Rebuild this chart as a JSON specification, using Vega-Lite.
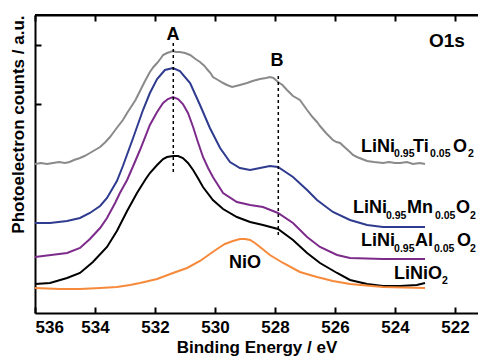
{
"$schema": "https://vega.github.io/schema/vega-lite/v6.json",
"width": 443, "height": 298,
"autosize": {"type": "none"},
"padding": {"left": 35, "top": 15, "right": 0, "bottom": 43},
"config": {"view": {"stroke": null}, "font": "Liberation Sans",
 "axis": {"grid": false, "domain": true, "domainColor": "#000", "domainWidth": 2, "tickColor": "#000", "tickWidth": 2, "tickSize": -6, "labelColor": "#000", "titleColor": "#000", "labelFont": "Liberation Sans", "titleFont": "Liberation Sans", "labelFontWeight": "bold", "titleFontWeight": "bold", "labelFontSize": 17, "titleFontSize": 17}},
"datasets": {
 "spectra": [
  {"s":"Ti","E":536.00,"c":149},{"s":"Ti","E":535.80,"c":150},{"s":"Ti","E":535.60,"c":149},{"s":"Ti","E":535.40,"c":150},{"s":"Ti","E":535.20,"c":151},{"s":"Ti","E":535.00,"c":150},{"s":"Ti","E":534.85,"c":151},{"s":"Ti","E":534.70,"c":153},{"s":"Ti","E":534.50,"c":155},{"s":"Ti","E":534.35,"c":157},{"s":"Ti","E":534.17,"c":160},{"s":"Ti","E":534.00,"c":163},{"s":"Ti","E":533.83,"c":166},{"s":"Ti","E":533.65,"c":171},{"s":"Ti","E":533.50,"c":176},{"s":"Ti","E":533.40,"c":180},{"s":"Ti","E":533.25,"c":186},{"s":"Ti","E":533.07,"c":193},{"s":"Ti","E":532.93,"c":200},{"s":"Ti","E":532.80,"c":206},{"s":"Ti","E":532.65,"c":213},{"s":"Ti","E":532.50,"c":222},{"s":"Ti","E":532.35,"c":231},{"s":"Ti","E":532.17,"c":241},{"s":"Ti","E":532.05,"c":246},{"s":"Ti","E":531.93,"c":250},{"s":"Ti","E":531.80,"c":255},{"s":"Ti","E":531.73,"c":258},{"s":"Ti","E":531.60,"c":260},{"s":"Ti","E":531.50,"c":261},{"s":"Ti","E":531.40,"c":262},{"s":"Ti","E":531.30,"c":261},{"s":"Ti","E":531.17,"c":261},{"s":"Ti","E":531.00,"c":260},{"s":"Ti","E":530.83,"c":258},{"s":"Ti","E":530.65,"c":254},{"s":"Ti","E":530.50,"c":251},{"s":"Ti","E":530.35,"c":247},{"s":"Ti","E":530.27,"c":244},{"s":"Ti","E":530.15,"c":240},{"s":"Ti","E":530.07,"c":236},{"s":"Ti","E":529.90,"c":233},{"s":"Ti","E":529.73,"c":230},{"s":"Ti","E":529.60,"c":228},{"s":"Ti","E":529.43,"c":226},{"s":"Ti","E":529.30,"c":227},{"s":"Ti","E":529.17,"c":228},{"s":"Ti","E":529.05,"c":229},{"s":"Ti","E":528.93,"c":230},{"s":"Ti","E":528.75,"c":232},{"s":"Ti","E":528.50,"c":234},{"s":"Ti","E":528.30,"c":235},{"s":"Ti","E":528.17,"c":236},{"s":"Ti","E":528.05,"c":235},{"s":"Ti","E":527.90,"c":231},{"s":"Ti","E":527.75,"c":228},{"s":"Ti","E":527.60,"c":223},{"s":"Ti","E":527.40,"c":217},{"s":"Ti","E":527.17,"c":213},{"s":"Ti","E":527.05,"c":208},{"s":"Ti","E":526.93,"c":203},{"s":"Ti","E":526.75,"c":196},{"s":"Ti","E":526.60,"c":191},{"s":"Ti","E":526.50,"c":187},{"s":"Ti","E":526.30,"c":180},{"s":"Ti","E":526.07,"c":173},{"s":"Ti","E":525.95,"c":171},{"s":"Ti","E":525.83,"c":170},{"s":"Ti","E":525.65,"c":165},{"s":"Ti","E":525.50,"c":161},{"s":"Ti","E":525.40,"c":158},{"s":"Ti","E":525.27,"c":156},{"s":"Ti","E":525.10,"c":154},{"s":"Ti","E":524.93,"c":152},{"s":"Ti","E":524.70,"c":151},{"s":"Ti","E":524.40,"c":150},{"s":"Ti","E":524.20,"c":151},{"s":"Ti","E":524.00,"c":150},{"s":"Ti","E":523.83,"c":150},{"s":"Ti","E":523.60,"c":151},{"s":"Ti","E":523.40,"c":149},{"s":"Ti","E":523.17,"c":150},{"s":"Ti","E":523.00,"c":149},
  {"s":"Mn","E":536.00,"c":90},{"s":"Mn","E":535.50,"c":90},{"s":"Mn","E":534.93,"c":92},{"s":"Mn","E":534.50,"c":95},{"s":"Mn","E":534.17,"c":100},{"s":"Mn","E":533.83,"c":107},{"s":"Mn","E":533.60,"c":115},{"s":"Mn","E":533.27,"c":132},{"s":"Mn","E":533.07,"c":147},{"s":"Mn","E":532.73,"c":175},{"s":"Mn","E":532.40,"c":203},{"s":"Mn","E":532.17,"c":220},{"s":"Mn","E":531.93,"c":234},{"s":"Mn","E":531.67,"c":243},{"s":"Mn","E":531.40,"c":245},{"s":"Mn","E":531.17,"c":242},{"s":"Mn","E":530.83,"c":230},{"s":"Mn","E":530.50,"c":208},{"s":"Mn","E":530.17,"c":185},{"s":"Mn","E":529.83,"c":165},{"s":"Mn","E":529.50,"c":151},{"s":"Mn","E":529.17,"c":145},{"s":"Mn","E":528.83,"c":143},{"s":"Mn","E":528.50,"c":145},{"s":"Mn","E":528.17,"c":147},{"s":"Mn","E":527.90,"c":146},{"s":"Mn","E":527.40,"c":136},{"s":"Mn","E":526.93,"c":123},{"s":"Mn","E":526.60,"c":113},{"s":"Mn","E":526.07,"c":101},{"s":"Mn","E":525.50,"c":93},{"s":"Mn","E":524.93,"c":88},{"s":"Mn","E":524.40,"c":86},{"s":"Mn","E":523.83,"c":86},{"s":"Mn","E":523.00,"c":86},
  {"s":"Al","E":536.00,"c":56},{"s":"Al","E":534.93,"c":60},{"s":"Al","E":534.50,"c":65},{"s":"Al","E":534.17,"c":74},{"s":"Al","E":533.83,"c":85},{"s":"Al","E":533.60,"c":95},{"s":"Al","E":533.33,"c":110},{"s":"Al","E":533.17,"c":120},{"s":"Al","E":532.93,"c":133},{"s":"Al","E":532.67,"c":151},{"s":"Al","E":532.50,"c":163},{"s":"Al","E":532.17,"c":188},{"s":"Al","E":531.93,"c":201},{"s":"Al","E":531.73,"c":210},{"s":"Al","E":531.57,"c":214},{"s":"Al","E":531.40,"c":216},{"s":"Al","E":531.23,"c":214},{"s":"Al","E":531.07,"c":209},{"s":"Al","E":530.90,"c":200},{"s":"Al","E":530.73,"c":186},{"s":"Al","E":530.57,"c":171},{"s":"Al","E":530.40,"c":156},{"s":"Al","E":530.23,"c":145},{"s":"Al","E":530.07,"c":136},{"s":"Al","E":529.73,"c":120},{"s":"Al","E":529.27,"c":111},{"s":"Al","E":528.83,"c":108},{"s":"Al","E":528.40,"c":106},{"s":"Al","E":527.90,"c":100},{"s":"Al","E":527.40,"c":90},{"s":"Al","E":526.93,"c":76},{"s":"Al","E":526.50,"c":66},{"s":"Al","E":525.93,"c":58},{"s":"Al","E":525.50,"c":55},{"s":"Al","E":524.40,"c":54},{"s":"Al","E":523.00,"c":54},
  {"s":"LiNiO2","E":536.00,"c":29},{"s":"LiNiO2","E":535.50,"c":30},{"s":"LiNiO2","E":534.93,"c":35},{"s":"LiNiO2","E":534.50,"c":40},{"s":"LiNiO2","E":534.07,"c":51},{"s":"LiNiO2","E":533.60,"c":66},{"s":"LiNiO2","E":533.27,"c":82},{"s":"LiNiO2","E":532.93,"c":102},{"s":"LiNiO2","E":532.60,"c":120},{"s":"LiNiO2","E":532.33,"c":133},{"s":"LiNiO2","E":532.17,"c":140},{"s":"LiNiO2","E":531.93,"c":148},{"s":"LiNiO2","E":531.73,"c":154},{"s":"LiNiO2","E":531.60,"c":156},{"s":"LiNiO2","E":531.40,"c":157},{"s":"LiNiO2","E":531.23,"c":157},{"s":"LiNiO2","E":531.07,"c":155},{"s":"LiNiO2","E":530.90,"c":150},{"s":"LiNiO2","E":530.73,"c":143},{"s":"LiNiO2","E":530.57,"c":135},{"s":"LiNiO2","E":530.40,"c":126},{"s":"LiNiO2","E":530.07,"c":113},{"s":"LiNiO2","E":529.73,"c":104},{"s":"LiNiO2","E":529.27,"c":96},{"s":"LiNiO2","E":528.83,"c":91},{"s":"LiNiO2","E":528.40,"c":88},{"s":"LiNiO2","E":527.90,"c":84},{"s":"LiNiO2","E":527.40,"c":73},{"s":"LiNiO2","E":526.93,"c":60},{"s":"LiNiO2","E":526.50,"c":50},{"s":"LiNiO2","E":525.93,"c":40},{"s":"LiNiO2","E":525.50,"c":33},{"s":"LiNiO2","E":524.93,"c":29},{"s":"LiNiO2","E":524.40,"c":27},{"s":"LiNiO2","E":523.83,"c":27},{"s":"LiNiO2","E":523.27,"c":28},{"s":"LiNiO2","E":523.00,"c":30},
  {"s":"NiO","E":536.00,"c":25},{"s":"NiO","E":535.17,"c":24},{"s":"NiO","E":534.50,"c":24},{"s":"NiO","E":533.83,"c":25},{"s":"NiO","E":533.27,"c":26},{"s":"NiO","E":532.83,"c":28},{"s":"NiO","E":532.50,"c":30},{"s":"NiO","E":531.93,"c":34},{"s":"NiO","E":531.40,"c":40},{"s":"NiO","E":530.93,"c":45},{"s":"NiO","E":530.50,"c":52},{"s":"NiO","E":530.17,"c":59},{"s":"NiO","E":529.93,"c":64},{"s":"NiO","E":529.67,"c":69},{"s":"NiO","E":529.40,"c":72},{"s":"NiO","E":529.17,"c":74},{"s":"NiO","E":529.00,"c":74},{"s":"NiO","E":528.83,"c":73},{"s":"NiO","E":528.67,"c":70},{"s":"NiO","E":528.50,"c":66},{"s":"NiO","E":528.17,"c":58},{"s":"NiO","E":527.73,"c":50},{"s":"NiO","E":527.17,"c":41},{"s":"NiO","E":526.60,"c":36},{"s":"NiO","E":526.07,"c":32},{"s":"NiO","E":525.50,"c":29},{"s":"NiO","E":524.40,"c":26},{"s":"NiO","E":523.00,"c":25}
 ],
 "dashes": [{"E":531.39,"c":141,"c2":272},{"E":527.89,"c":78,"c2":240}],
 "main": [
  {"t":"LiNi","E":525.13,"c":161},{"t":"Ti","E":523.40,"c":161},{"t":"O","E":522.07,"c":161},
  {"t":"LiNi","E":525.40,"c":100},{"t":"Mn","E":523.60,"c":100},{"t":"O","E":521.97,"c":100},
  {"t":"LiNi","E":525.13,"c":67},{"t":"Al","E":523.33,"c":67},{"t":"O","E":521.93,"c":67},
  {"t":"LiNiO","E":524.03,"c":34}
 ],
 "subs": [
  {"t":"0.95","E":524.03,"c":156},{"t":"0.05","E":522.83,"c":156},{"t":"2","E":521.57,"c":156},
  {"t":"0.95","E":524.30,"c":94},{"t":"0.05","E":522.67,"c":94},{"t":"2","E":521.50,"c":94},
  {"t":"0.95","E":524.03,"c":61},{"t":"0.05","E":522.70,"c":61},{"t":"2","E":521.50,"c":61},
  {"t":"2","E":522.43,"c":29}
 ],
 "centered": [{"t":"A","E":531.40,"c":273},{"t":"B","E":527.93,"c":247},{"t":"NiO","E":529.0,"c":45}],
 "corner": [{"t":"O1s","E":521.67,"c":266}],
 "topedge": [{"E":536,"c":298},{"E":521.233,"c":298}]
},
"layer": [
 {"data": {"name": "spectra"}, "mark": {"type": "line", "strokeWidth": 2},
  "encoding": {
   "x": {"field": "E", "type": "quantitative", "scale": {"domain": [536, 521.233], "nice": false, "zero": false},
     "axis": {"orient": "bottom", "values": [536,534,532,530,528,526,524,522], "title": "Binding Energy / eV", "labelPadding": 12, "titlePadding": 4}},
   "y": {"field": "c", "type": "quantitative", "scale": {"domain": [0, 298], "nice": false, "zero": false},
     "axis": {"orient": "left", "values": [209, 268], "labels": false, "title": "Photoelectron counts / a.u.", "titleAnchor": "end", "titlePadding": 7}},
   "color": {"field": "s", "type": "nominal", "scale": {"domain": ["Ti","Mn","Al","LiNiO2","NiO"], "range": ["#8a8a8a","#2e3b8f","#7d2b8b","#000000","#f7893a"]}, "legend": null}
  }},
 {"data": {"name": "topedge"}, "mark": {"type": "line", "strokeWidth": 2, "color": "#000", "clip": false},
  "encoding": {
   "x": {"field": "E", "type": "quantitative", "scale": {"domain": [536, 521.233], "nice": false, "zero": false},
     "axis": {"orient": "top", "values": [536,534,532,530,528,526,524,522], "labels": false, "title": null, "domain": true, "domainColor": "#000", "domainWidth": 2}},
   "y": {"field": "c", "type": "quantitative"}
  }},
 {"data": {"name": "dashes"}, "mark": {"type": "rule", "strokeDash": [3, 3], "strokeWidth": 1.5, "color": "#000"},
  "encoding": {
   "x": {"field": "E", "type": "quantitative", "axis": null},
   "y": {"field": "c", "type": "quantitative"},
   "y2": {"field": "c2"}
  }},
 {"data": {"name": "main"}, "mark": {"type": "text", "align": "left", "baseline": "alphabetic", "fontSize": 18, "fontWeight": "bold", "color": "#000"},
  "encoding": {"x": {"field": "E", "type": "quantitative", "axis": null}, "y": {"field": "c", "type": "quantitative"}, "text": {"field": "t"}}},
 {"data": {"name": "subs"}, "mark": {"type": "text", "align": "left", "baseline": "alphabetic", "fontSize": 10.5, "fontWeight": "bold", "color": "#000"},
  "encoding": {"x": {"field": "E", "type": "quantitative", "axis": null}, "y": {"field": "c", "type": "quantitative"}, "text": {"field": "t"}}},
 {"data": {"name": "centered"}, "mark": {"type": "text", "align": "center", "baseline": "alphabetic", "fontSize": 18, "fontWeight": "bold", "color": "#000"},
  "encoding": {"x": {"field": "E", "type": "quantitative", "axis": null}, "y": {"field": "c", "type": "quantitative"}, "text": {"field": "t"}}},
 {"data": {"name": "corner"}, "mark": {"type": "text", "align": "right", "baseline": "alphabetic", "fontSize": 19, "fontWeight": "bold", "color": "#000"},
  "encoding": {"x": {"field": "E", "type": "quantitative", "axis": null}, "y": {"field": "c", "type": "quantitative"}, "text": {"field": "t"}}}
],
"resolve": {"axis": {"x": "independent"}}
}
